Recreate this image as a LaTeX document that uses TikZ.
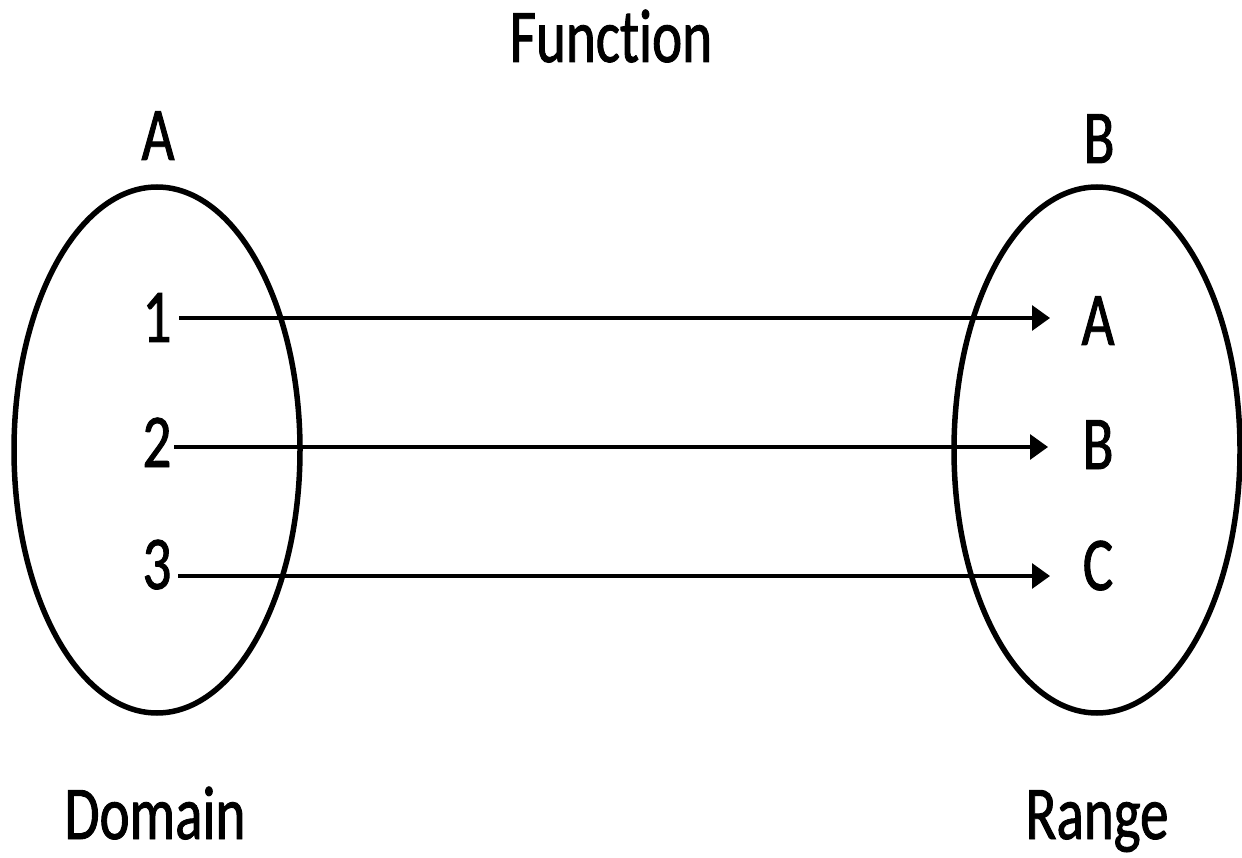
\documentclass[tikz,border=0pt]{standalone}
\usepackage{fontspec}
\setmainfont{Carlito}[FakeStretch=0.75,FakeBold=1.2,Ligatures=NoCommon]
\usetikzlibrary{shapes.geometric,arrows.meta}
\begin{document}
\begin{tikzpicture}[x=1pt,y=-1pt,
  lbl/.style={inner sep=0pt,anchor=base,font=\fontsize{76}{80}\selectfont},
  setshape/.style={draw,ellipse,inner sep=0pt,line width=5.5pt,
    minimum width=286pt,minimum height=526pt},
  maparrow/.style={line width=3.2pt,-{Triangle[length=18pt,width=25pt]}}]
\useasboundingbox (0,0) rectangle (1242,858);

% the two sets
\node[setshape] (dom) at (157,450) {};
\node[setshape] (ran) at (1097,450) {};

% titles
\node[lbl] (title) at (611,62) {Function};
\node[lbl] (setA) at (158,160) {A};
\node[lbl] (setB) at (1099,163) {B};
\node[lbl] (domlbl) at (155,839) {Domain};
\node[lbl] (ranlbl) at (1097,839) {Range};

% elements of the domain
\node[lbl] (n1) at (157,342) {1};
\node[lbl] (n2) at (157,467) {2};
\node[lbl] (n3) at (157,589) {3};

% elements of the range
\node[lbl] (m1) at (1098,345) {A};
\node[lbl] (m2) at (1098,469) {B};
\node[lbl] (m3) at (1098,590) {C};

% arrow ends
\coordinate (s1) at (179,318);
\coordinate (e1) at (1050,318);
\coordinate (s2) at (174,447);
\coordinate (e2) at (1048,447);
\coordinate (s3) at (178,576);
\coordinate (e3) at (1050,576);

\draw[maparrow] (s1) -- (e1);
\draw[maparrow] (s2) -- (e2);
\draw[maparrow] (s3) -- (e3);
\end{tikzpicture}
\end{document}
